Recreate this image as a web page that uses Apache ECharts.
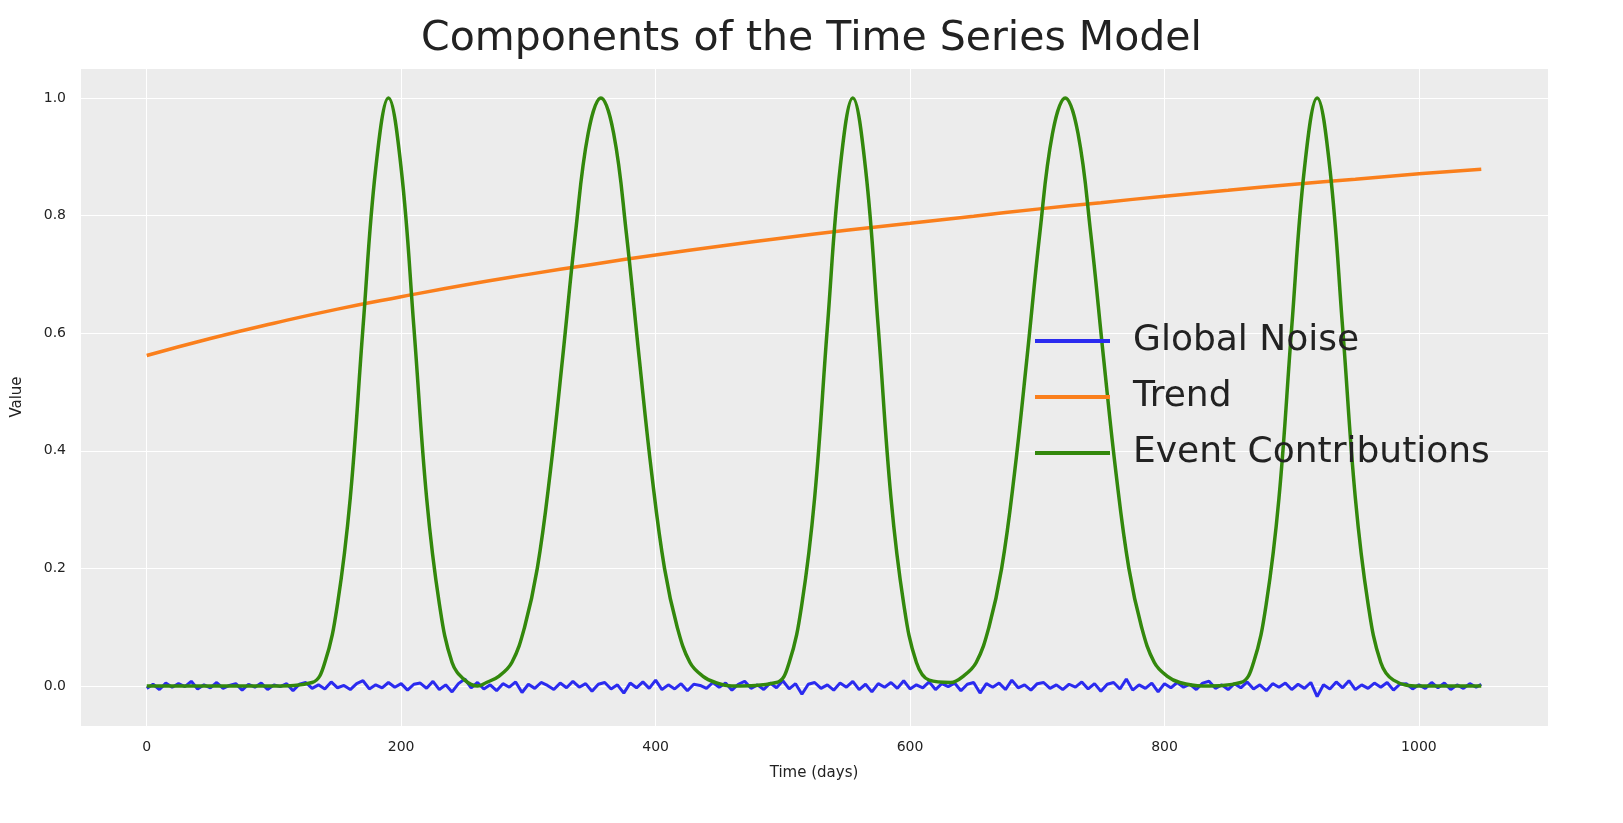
<!DOCTYPE html>
<html><head><meta charset="utf-8">
<script src="https://cdn.jsdelivr.net/npm/echarts@6/dist/echarts.min.js"></script>
<style>html,body{margin:0;padding:0;background:#fff;overflow:hidden}#c{width:1623px;height:823px}</style>
</head><body><div id="c"></div>
<script>
const trendX=[0,50,100,150,200,250,300,350,400,450,500,550,600,650,700,750,800,850,900,950,1000,1049];
const trendY=[.562,.591,.617,.641,.662,.682,.700,.717,.733,.748,.762,.775,.787,.799,.811,.822,.833,.843,.853,.862,.871,.879];
const eventX=[0,100,130,140,150,160,170,180,190,200,210,220,230,240,250,260,267,277,287,297,307,317,327,337,347,357,367,377,387,397,407,417,427,437,447,460,495,505,515,525,535,545,555,565,575,585,595,605,615,632,642,652,662,672,682,692,702,712,722,732,742,752,762,772,782,792,802,812,830,860,870,880,890,900,910,920,930,940,950,960,970,980,1000,1049];
const eventY=[0,0,.006,.04,.14,.32,.61,.88,1,.88,.61,.32,.14,.04,.01,0,.006,.017,.04,.10,.20,.36,.56,.77,.94,1,.94,.77,.56,.36,.20,.10,.04,.017,.006,0,.006,.04,.14,.32,.61,.88,1,.88,.61,.32,.14,.04,.01,.006,.017,.04,.10,.20,.36,.56,.77,.94,1,.94,.77,.56,.36,.20,.10,.04,.017,.006,0,.006,.04,.14,.32,.61,.88,1,.88,.61,.32,.14,.04,.01,0,0];
const noiseStep=5;
const noiseY=[-.004,.003,-.006,.005,-.002,.004,-.001,.008,-.005,.002,-.003,.006,-.004,.001,.004,-.007,.003,-.002,.005,-.006,.002,-.001,.004,-.008,.003,.006,-.004,.002,-.005,.007,
-.003,.001,-.006,.004,.009,-.005,.002,-.003,.006,-.002,.004,-.007,.003,.005,-.004,.008,-.006,.002,-.010,.004,.012,-.003,.006,-.005,.002,-.008,.004,-.002,.007,-.011,
.003,-.004,.006,.001,-.006,.005,-.003,.008,-.002,.004,-.009,.003,.006,-.005,.002,-.012,.005,-.003,.007,-.004,.010,-.006,.002,-.005,.004,-.008,.003,.001,-.004,.006,
-.002,.005,-.007,.003,.008,-.004,.002,-.006,.005,-.003,.009,-.005,.004,-.014,.003,.006,-.004,.002,-.007,.005,-.002,.008,-.006,.003,-.010,.004,-.002,.006,-.004,.009,
-.005,.002,-.003,.007,-.006,.004,-.001,.005,-.008,.003,.006,-.012,.004,-.002,.005,-.006,.010,-.003,.002,-.007,.004,.006,-.004,.002,-.006,.003,-.002,.007,-.005,.004,
-.009,.003,.006,-.005,.012,-.007,.002,-.004,.005,-.010,.004,-.003,.006,-.002,.003,-.006,.005,.008,-.004,.002,-.006,.004,-.003,.007,-.005,.002,-.008,.004,-.002,.005,
-.006,.003,-.004,.006,-.018,.002,-.005,.007,-.003,.009,-.006,.002,-.004,.005,-.002,.006,-.007,.003,.004,-.005,.002,
-.004,.006,-.003,.005,-.006,.002,-.004,.004,-.002,.003];
const noiseData=noiseY.map((v,i)=>[Math.min(i*noiseStep,1049),v]);
const chart=echarts.init(document.getElementById('c'));
const txt='#222';
chart.setOption({
 animation:false,
 title:{text:'Components of the Time Series Model',left:'center',top:14,textStyle:{fontSize:41,fontWeight:'normal',color:txt,fontFamily:'DejaVu Sans'}},
 grid:{left:80,right:75,top:68,bottom:97,show:true,backgroundColor:'#ececec',borderWidth:0},
 legend:{left:1030,top:318,orient:'vertical',itemWidth:75,itemHeight:4,itemGap:20,icon:'rect',
   textStyle:{fontSize:36,color:txt,fontFamily:'DejaVu Sans',padding:[0,0,0,18]},
   data:['Global Noise','Trend','Event Contributions']},
 xAxis:{type:'value',min:-52.45,max:1101.45,splitNumber:6,name:'Time (days)',nameLocation:'middle',nameGap:40,
   nameTextStyle:{fontSize:15,color:txt,fontFamily:'DejaVu Sans'},
   axisLine:{show:false},axisTick:{show:false},
   axisLabel:{fontSize:14,color:txt,margin:14,fontFamily:'DejaVu Sans',showMinLabel:false,showMaxLabel:false,formatter:v=>String(Math.round(v))},
   splitLine:{lineStyle:{color:'#fff',width:1}}},
 yAxis:{type:'value',min:-0.068,max:1.051,splitNumber:5,name:'Value',nameLocation:'middle',nameGap:55,
   nameTextStyle:{fontSize:15,color:txt,fontFamily:'DejaVu Sans'},
   axisLine:{show:false},axisTick:{show:false},
   axisLabel:{fontSize:14,color:txt,margin:14,fontFamily:'DejaVu Sans',showMinLabel:false,showMaxLabel:false,formatter:v=>v.toFixed(1)},
   splitLine:{lineStyle:{color:'#fff',width:1}}},
 series:[
  {name:'Global Noise',type:'line',data:noiseData,showSymbol:false,lineStyle:{color:'#2b2bef',width:3},itemStyle:{color:'#2b2bef'}},
  {name:'Trend',type:'line',data:trendX.map((x,i)=>[x,trendY[i]]),smooth:true,showSymbol:false,lineStyle:{color:'#fa7f1c',width:3.5},itemStyle:{color:'#fa7f1c'}},
  {name:'Event Contributions',type:'line',data:eventX.map((x,i)=>[x,eventY[i]]),smooth:0.4,showSymbol:false,lineStyle:{color:'#33880c',width:3.5},itemStyle:{color:'#33880c'}}
 ]
});
</script></body></html>
